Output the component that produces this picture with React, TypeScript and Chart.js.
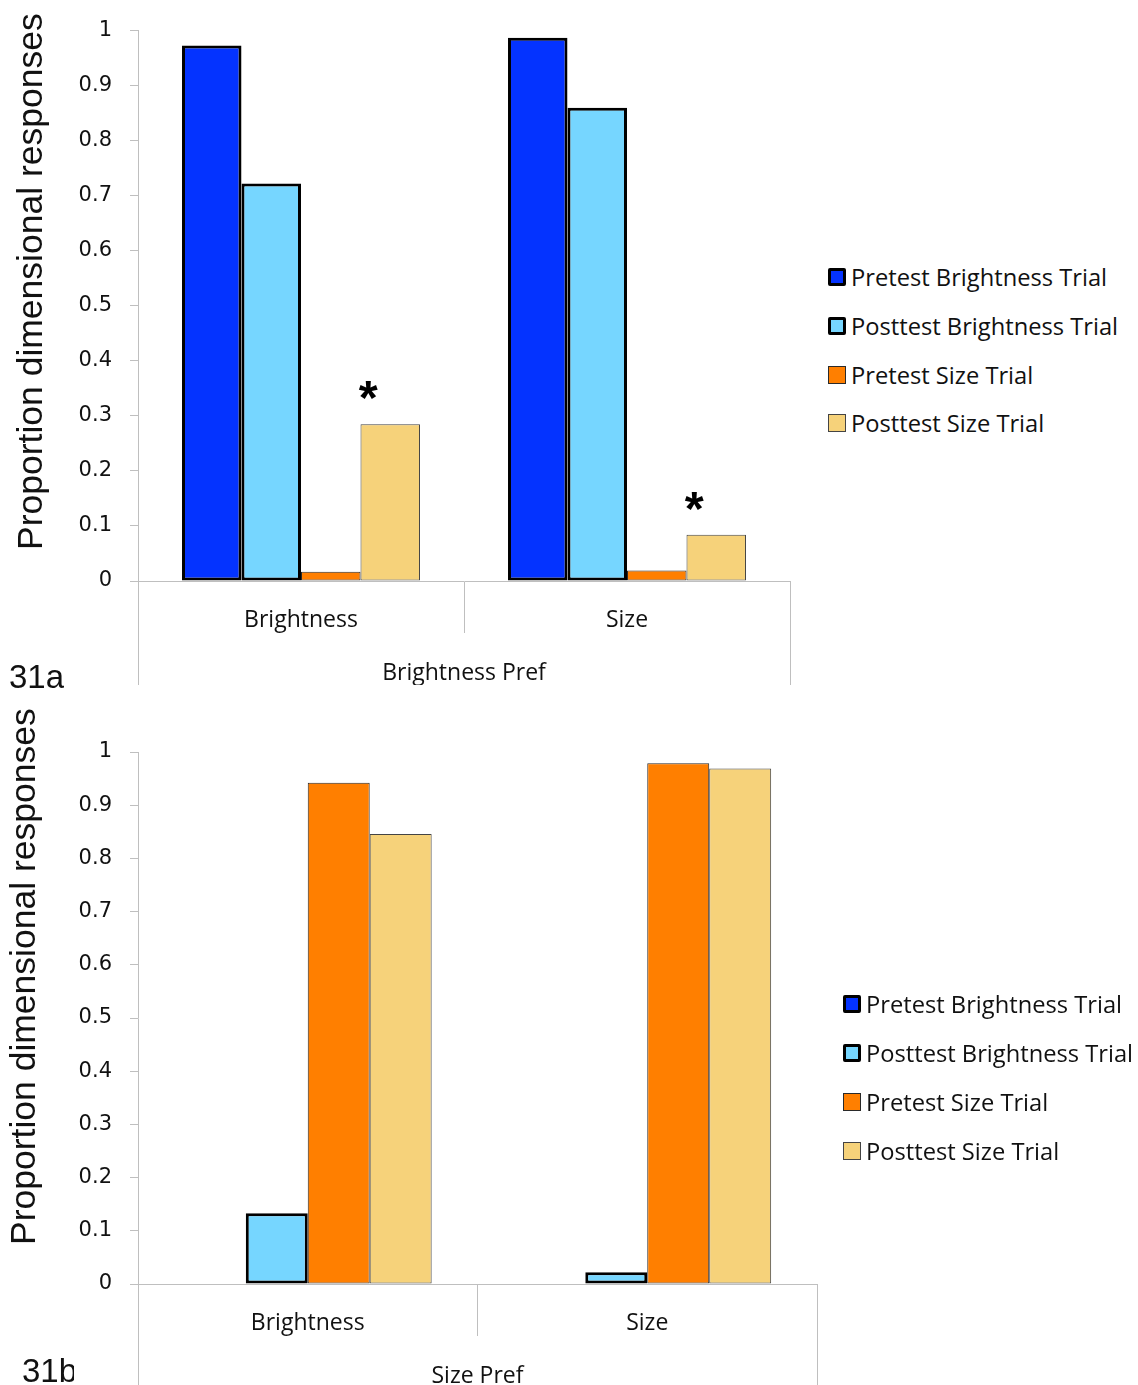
import React, { useEffect, useRef } from 'react';
import { Chart, registerables } from 'chart.js';

Chart.register(...registerables);

// ---------------- data ----------------
const categories = ['Brightness', 'Size'];
const seriesNames = [
  'Pretest Brightness Trial',
  'Posttest Brightness Trial',
  'Pretest Size Trial',
  'Posttest Size Trial',
];
const yTickLabels = ['0', '0.1', '0.2', '0.3', '0.4', '0.5', '0.6', '0.7', '0.8', '0.9', '1'];
const yAxisTitle = 'Proportion dimensional responses';

// Panel 31a – Brightness Pref
const panelLabelA = '31a';
const groupLabelA = 'Brightness Pref';
const pretestBrightnessA = [0.973, 0.987];
const posttestBrightnessA = [0.722, 0.86];
const pretestSizeA = [0.017, 0.019];
const posttestSizeA = [0.285, 0.084];
const significantA = [true, true]; // asterisk over Posttest Size Trial

// Panel 31b – Size Pref
const panelLabelB = '31b';
const groupLabelB = 'Size Pref';
const pretestBrightnessB = [0, 0];
const posttestBrightnessB = [0.133, 0.022];
const pretestSizeB = [0.942, 0.979];
const posttestSizeB = [0.846, 0.969];
const significantB = [false, false];

// ---------------- styles ----------------
const seriesStyles = [
  { fill: '#0433FF', border: '#000000', width: 3 },
  { fill: '#76D6FF', border: '#000000', width: 3 },
  { fill: '#FF7F00', border: '#2a2a2a', width: 1 },
  { fill: '#F6D27A', border: '#444444', width: 1 },
];
const AXIS = '#bfbfbf';
const CAT_FONT = 'Open Sans';

function makeMarksPlugin(marks: boolean[], datasetIndex: number) {
  return {
    id: 'significanceMarks',
    afterDatasetsDraw(chart: any) {
      const meta = chart.getDatasetMeta(datasetIndex);
      const ctx = chart.ctx as CanvasRenderingContext2D;
      ctx.save();
      ctx.font = 'bold 100px "Liberation Sans"';
      const probe = ctx.measureText('*');
      const probeW = probe.actualBoundingBoxRight + probe.actualBoundingBoxLeft || 35;
      const size = (100 * 19) / probeW;
      ctx.font = `bold ${size}px "Liberation Sans"`;
      ctx.fillStyle = '#000';
      ctx.textAlign = 'center';
      ctx.textBaseline = 'alphabetic';
      const m = ctx.measureText('*');
      const asc = m.actualBoundingBoxAscent;
      const desc = m.actualBoundingBoxDescent;
      marks.forEach((on, i) => {
        if (!on) return;
        const el = meta.data[i];
        if (!el) return;
        const cx = el.x - 22;
        const cy = el.y - 34;
        ctx.fillText('*', cx, cy + (asc - desc) / 2);
      });
      ctx.restore();
    },
  };
}

type PanelProps = {
  top: number;
  width: number;
  height: number;
  padTop: number;
  padBottom: number;
  padRight: number;
  series: number[][];
  group: string;
  marks: boolean[];
};

function BarPanel({ top, width, height, padTop, padBottom, padRight, series, group, marks }: PanelProps) {
  const ref = useRef<HTMLCanvasElement>(null);
  useEffect(() => {
    if (!ref.current) return;
    const tickFont = { family: CAT_FONT, size: 23, lineHeight: 1.2 };
    const chart = new Chart(ref.current, {
      type: 'bar',
      data: {
        labels: categories,
        datasets: series.map((vals, i) => ({
          label: seriesNames[i],
          data: vals,
          backgroundColor: seriesStyles[i].fill,
          borderColor: seriesStyles[i].border,
          borderWidth: seriesStyles[i].width,
          borderSkipped: false,
          categoryPercentage: 0.73,
          barPercentage: 1,
        })),
      },
      options: {
        animation: false,
        responsive: false,
        maintainAspectRatio: false,
        layout: { padding: { top: padTop, bottom: padBottom, left: 0, right: padRight } },
        plugins: {
          legend: { display: false },
          tooltip: { enabled: false },
          title: { display: false },
        },
        scales: {
          x: {
            type: 'category',
            position: 'bottom',
            weight: 0,
            offset: true,
            grid: {
              offset: true,
              drawOnChartArea: false,
              drawTicks: true,
              tickLength: 52,
              color: AXIS,
              lineWidth: 1,
            },
            border: { display: true, color: AXIS, width: 1 },
            ticks: { font: tickFont, color: '#111', padding: -26, maxRotation: 0, autoSkip: false },
            afterFit: (s: any) => {
              s.height = 52;
            },
          },
          x2: {
            type: 'category',
            labels: [group],
            position: 'bottom',
            weight: 1,
            offset: true,
            grid: {
              offset: true,
              drawOnChartArea: false,
              drawTicks: true,
              tickLength: 52,
              color: AXIS,
              lineWidth: 1,
            },
            border: { display: false },
            ticks: { font: tickFont, color: '#111', padding: -25, maxRotation: 0, autoSkip: false },
            afterFit: (s: any) => {
              s.height = 52;
            },
          },
          y: {
            type: 'linear',
            position: 'left',
            min: 0,
            max: 1,
            ticks: {
              stepSize: 0.1,
              padding: 18,
              color: '#111',
              font: { family: 'DejaVu Sans', size: 21 },
              callback: (v: any, i: number) => yTickLabels[i] ?? String(v),
            },
            grid: { drawOnChartArea: false, drawTicks: true, tickLength: 8, color: AXIS, lineWidth: 1 },
            border: { display: true, color: AXIS, width: 1 },
            afterFit: (s: any) => {
              s.width = 138;
            },
          },
        },
      } as any,
      plugins: [makeMarksPlugin(marks, 3)],
    });
    return () => chart.destroy();
  }, []);
  return (
    <canvas
      ref={ref}
      width={width}
      height={height}
      style={{ position: 'absolute', left: 0, top, width, height, display: 'block' }}
    />
  );
}

function YTitle({ left, top }: { left: number; top: number }) {
  return (
    <div
      style={{
        position: 'absolute',
        left,
        top,
        transformOrigin: '0 0',
        transform: 'rotate(-90deg)',
        fontFamily: '"Liberation Sans", Arial, sans-serif',
        fontSize: 35.5,
        lineHeight: '35px',
        whiteSpace: 'nowrap',
        color: '#111',
      }}
    >
      {yAxisTitle}
    </div>
  );
}

function PanelLabel({ text, left, top, clip }: { text: string; left: number; top: number; clip?: number }) {
  return (
    <div
      style={{
        position: 'absolute',
        left,
        top,
        width: clip,
        overflow: 'hidden',
        fontFamily: '"Liberation Sans", Arial, sans-serif',
        fontSize: 33,
        lineHeight: '33px',
        whiteSpace: 'nowrap',
        color: '#111',
      }}
    >
      {text}
    </div>
  );
}

function Legend({ left, centers }: { left: number; centers: number[] }) {
  return (
    <>
      {seriesNames.map((name, i) => (
        <div
          key={name}
          style={{
            position: 'absolute',
            left,
            top: centers[i] - 15,
            height: 30,
            display: 'flex',
            alignItems: 'center',
            whiteSpace: 'nowrap',
          }}
        >
          <div
            style={{
              width: 18,
              height: 18,
              boxSizing: 'border-box',
              background: seriesStyles[i].fill,
              border: `${seriesStyles[i].width}px solid ${seriesStyles[i].border}`,
              borderRadius: seriesStyles[i].width > 1 ? 2 : 0,
              marginRight: 5,
              flex: 'none',
            }}
          />
          <span
            style={{
              fontFamily: '"Open Sans", sans-serif',
              fontSize: 23.7,
              lineHeight: '30px',
              color: '#111',
            }}
          >
            {name}
          </span>
        </div>
      ))}
    </>
  );
}

export default function App() {
  return (
    <div
      style={{
        position: 'absolute',
        left: 0,
        top: 0,
        width: 1138,
        height: 1385,
        overflow: 'hidden',
        background: '#ffffff',
      }}
    >
      <BarPanel
        top={0}
        width={820}
        height={700}
        padTop={28}
        padBottom={15}
        padRight={30}
        series={[pretestBrightnessA, posttestBrightnessA, pretestSizeA, posttestSizeA]}
        group={groupLabelA}
        marks={significantA}
      />
      <YTitle left={13} top={550} />
      <PanelLabel text={panelLabelA} left={9} top={660} />
      <Legend left={828} centers={[277, 326, 375, 423]} />

      <BarPanel
        top={700}
        width={850}
        height={720}
        padTop={52}
        padBottom={32}
        padRight={33}
        series={[pretestBrightnessB, posttestBrightnessB, pretestSizeB, posttestSizeB]}
        group={groupLabelB}
        marks={significantB}
      />
      <YTitle left={6} top={1245} />
      <PanelLabel text={panelLabelB} left={22} top={1354} clip={52} />
      <Legend left={843} centers={[1004, 1053, 1102, 1151]} />
    </div>
  );
}
